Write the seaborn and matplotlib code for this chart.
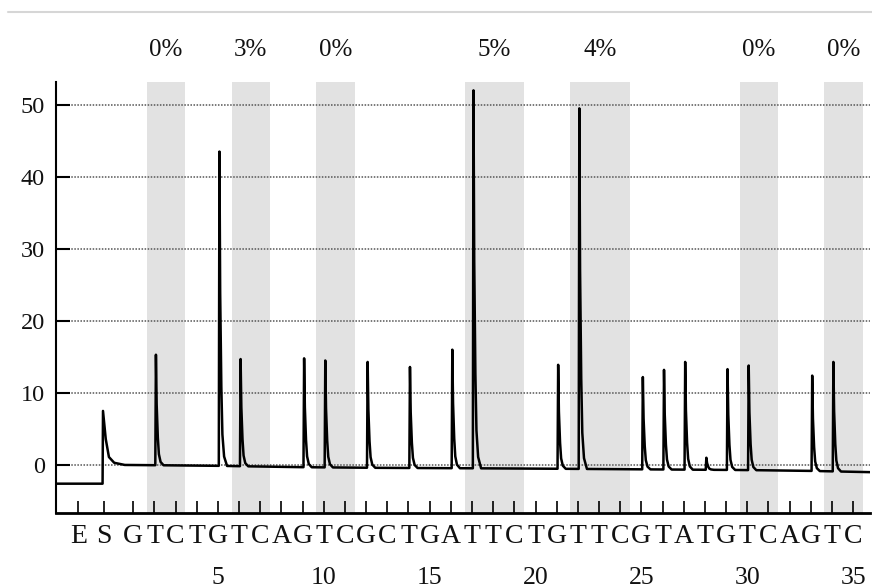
import numpy as np
import pandas as pd
import matplotlib
matplotlib.use("Agg")
import matplotlib.pyplot as plt
import matplotlib.transforms as mtransforms
from matplotlib.lines import Line2D
import seaborn as sns

# ---------------- data ----------------
dispensation_labels = ["E", "S"] + list("GTCTGTCAGTCGCTGATTCTGTTCGTATGTCAGTC")
dispensation_pos = [-1.6, -0.4] + list(range(1, 36))
number_ticks = [5, 10, 15, 20, 25, 30, 35]

# peaks: dispensation number and top value of the signal
peak_pos = [2, 5, 6, 9, 10, 12, 14, 16, 17, 21, 22, 25, 26, 27, 28, 29, 30, 33, 34]
peak_top = [15.3, 43.5, 14.7, 14.8, 14.5, 14.3, 13.6, 16.0, 52.0, 13.9, 49.5,
            12.2, 13.2, 14.3, 1.0, 13.3, 13.8, 12.4, 14.3]

# baseline of the trace
base_x = [-2.65, -0.45, 0.6, 4.6, 8.6, 12.6, 19.6, 24.6, 29.6, 32.6, 35.8]
base_y = [-2.6, -2.6, 0.0, -0.1, -0.3, -0.4, -0.5, -0.6, -0.7, -0.8, -1.0]

# substrate (S) step response
s_step_x = [-0.43, -0.30, -0.15, 0.10]
s_step_y = [7.5, 3.6, 1.1, 0.3]

# shaded regions with their percentage labels
band_start = [2, 6, 10, 17, 22, 30, 34]
band_end = [3, 7, 11, 19, 24, 31, 35]
band_pct = ["0%", "3%", "0%", "5%", "4%", "0%", "0%"]

y_ticks = [0, 10, 20, 30, 40, 50]

# ---------------- peak shape (style) ----------------
peak_delay = 0.07
shape_dx = [-0.03, 0.0, 0.035, 0.09, 0.14, 0.22, 0.36]
shape_frac = [0.0, 1.0, 0.55, 0.25, 0.1, 0.03, 0.0]

xs = list(base_x) + list(s_step_x)
ys = list(base_y) + list(s_step_y)
for p, top in zip(peak_pos, peak_top):
    c = p + peak_delay
    bc = float(np.interp(c, base_x, base_y))
    for dx, f in zip(shape_dx, shape_frac):
        x = c + dx
        b = float(np.interp(x, base_x, base_y))
        xs.append(x)
        ys.append(b + (top - bc) * f)
trace = pd.DataFrame({"x": xs, "y": ys}).sort_values("x").reset_index(drop=True)

# ---------------- figure ----------------
sns.set_theme(style="white")
plt.rcParams["font.family"] = ["Liberation Serif", "DejaVu Serif"]

fig = plt.figure(figsize=(8.72, 5.88), dpi=100)
ax = fig.add_axes([56 / 872, 1 - 513 / 588, (870 - 56) / 872, (513 - 81.7) / 588])

for s, e in zip(band_start, band_end):
    ax.axvspan(s - 0.35, e + 0.45, color="#e2e2e2", lw=0, zorder=0)

ax.set_yticks(y_ticks)
ax.yaxis.grid(True, linestyle=(0, (1, 1)), color="#555555", lw=1.1, zorder=1)
ax.xaxis.grid(False)

sns.lineplot(data=trace, x="x", y="y", color="black", lw=1.8, ax=ax,
             estimator=None, sort=False, zorder=3)

ax.set_xlim(-2.65, 35.8)
ax.set_ylim(-6.67, 53.2)
ax.set_xlabel("")
ax.set_ylabel("")

ax.set_xticks(dispensation_pos)
ax.set_xticklabels(dispensation_labels)
ax.tick_params(axis="x", direction="in", length=9, width=1.2, color="black",
               labelsize=20, pad=8, bottom=True, labelcolor="#111111")
ax.tick_params(axis="y", direction="in", length=10, width=1.5, color="black",
               labelsize=17.5, pad=8, left=True, labelcolor="#111111")

for side in ["top", "right"]:
    ax.spines[side].set_visible(False)
ax.spines["left"].set_linewidth(1.5)
ax.spines["left"].set_color("black")
ax.spines["bottom"].set_linewidth(2.0)
ax.spines["bottom"].set_color("black")

trans = mtransforms.blended_transform_factory(ax.transData, ax.transAxes)
for n in number_ticks:
    ax.text(n, -0.151, str(n), transform=trans, ha="center", va="center",
            fontsize=18.5, color="#111111", clip_on=False)
for s, e, lab in zip(band_start, band_end, band_pct):
    ax.text((s - 0.35 + e + 0.45) / 2, 1.074, lab, transform=trans, ha="center",
            va="center", fontsize=18, color="#111111", clip_on=False)

fig.add_artist(Line2D([8 / 872, 1.0], [1 - 12 / 588, 1 - 12 / 588],
                      color="#d6d6d6", lw=1.5))

fig.savefig("out.png", dpi=100, facecolor="white")
